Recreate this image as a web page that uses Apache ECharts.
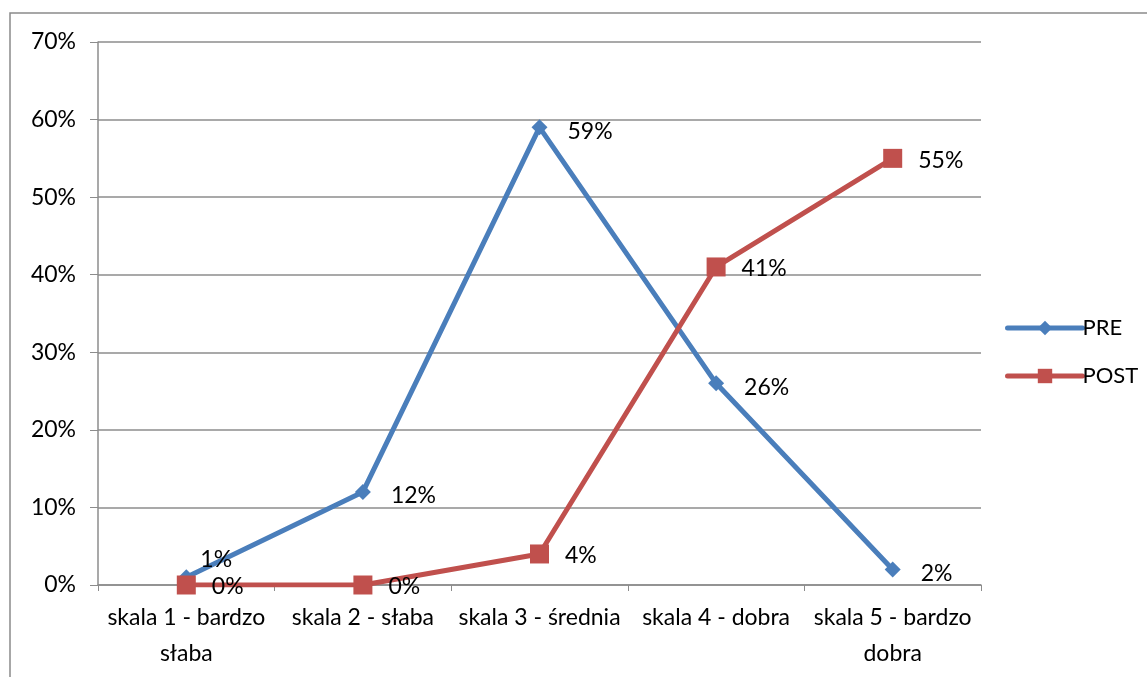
<!DOCTYPE html>
<html><head><meta charset="utf-8">
<script src="https://cdn.jsdelivr.net/npm/echarts@6/dist/echarts.min.js"></script>
<style>html,body{margin:0;padding:0;background:#fff}#c{width:1147px;height:677px}</style>
</head><body><div id="c"></div>
<script>
const categories = ['skala 1 - bardzo\nsłaba', 'skala 2 - słaba', 'skala 3 - średnia', 'skala 4 - dobra', 'skala 5 - bardzo\ndobra'];
const preValues = [1, 12, 59, 26, 2];
const postValues = [0, 0, 4, 41, 55];
const yTicks = [0, 10, 20, 30, 40, 50, 60, 70];

const FONT = 'Lato, "Open Sans", sans-serif';
const FS = 23;
const chart = echarts.init(document.getElementById('c'));
const preData = preValues.map((v, i) => i === 0 ? {value: v, label: {offset: [-14, -18]}} : v);
chart.setOption({
  animation: false,
  backgroundColor: '#fff',
  graphic: [{
    type: 'rect', shape: {x: 10, y: 13, width: 1200, height: 700},
    style: {fill: 'none', stroke: '#8a8a8a', lineWidth: 1.5}, silent: true
  }],
  grid: {left: 98, right: 166, top: 42, bottom: 92},
  legend: {
    orient: 'vertical', left: 1000, top: 312, itemGap: 26,
    itemWidth: 75, itemHeight: 18,
    lineStyle: {width: 5, cap: 'round'},
    textStyle: {fontFamily: FONT, fontSize: 22, color: '#000', padding: [0,0,0,-5]},
    data: ['PRE', 'POST']
  },
  xAxis: {
    type: 'category', data: categories, boundaryGap: true,
    axisLine: {lineStyle: {color: '#8c8c8c', width: 1.5}},
    axisTick: {show: true, length: 6, lineStyle: {color: '#8c8c8c'}},
    axisLabel: {fontFamily: FONT, fontSize: FS, color: '#000', margin: 15, lineHeight: 36, interval: 0}
  },
  yAxis: {
    type: 'value', min: 0, max: 70, interval: 10,
    axisLine: {show: true, lineStyle: {color: '#8c8c8c', width: 1.5}},
    axisTick: {show: true, length: 8, lineStyle: {color: '#8c8c8c'}},
    splitLine: {lineStyle: {color: '#8c8c8c', width: 1.5}},
    axisLabel: {fontFamily: FONT, fontSize: FS, color: '#000', margin: 22,
      formatter: v => yTicks.includes(v) ? v + '%' : ''}
  },
  series: [
    {
      name: 'PRE', type: 'line', data: preData, color: '#4a7ebb',
      symbol: 'diamond', symbolSize: 16,
      lineStyle: {width: 5, color: '#4a7ebb'},
      itemStyle: {color: '#4a7ebb'},
      label: {show: true, position: 'right', distance: 20, offset: [0, 4], formatter: p => p.value + '%',
        fontFamily: FONT, fontSize: FS, color: '#000'}
    },
    {
      name: 'POST', type: 'line', data: postValues, color: '#c0504d',
      symbol: 'rect', symbolSize: 19,
      lineStyle: {width: 5, color: '#c0504d'},
      itemStyle: {color: '#c0504d'},
      label: {show: true, position: 'right', distance: 16, offset: [0, 2], formatter: p => p.value + '%',
        fontFamily: FONT, fontSize: FS, color: '#000'}
    }
  ]
});
</script></body></html>
